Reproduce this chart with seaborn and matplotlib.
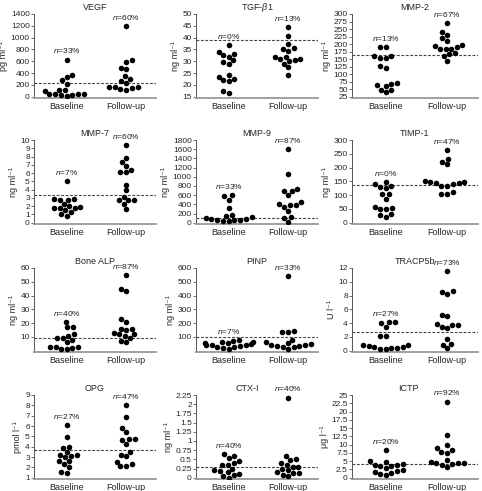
import pandas as pd
import matplotlib.pyplot as plt
import seaborn as sns

# values, one list per group
vegf_base = [630, 370, 340, 280, 220, 120, 110, 100, 45, 45, 45, 40, 35, 20, 30]
vegf_follow = [1200, 620, 590, 490, 470, 350, 300, 270, 230, 170, 160, 160, 140, 130, 120]
tgf_base = [37, 33, 32.5, 34, 32, 30.5, 29.5, 29, 24, 23.5, 22.5, 22, 21.5, 17.5, 16.8]
tgf_follow = [44.5, 40.5, 37.5, 35.5, 35, 34.5, 32, 32, 31, 30.5, 30, 29, 27.5, 30.8, 24.2]
mmp2_base = [190, 190, 160, 160, 155, 155, 127, 120, 68, 70, 63, 60, 48, 48, 40]
mmp2_follow = [270, 240, 230, 220, 210, 198, 193, 190, 185, 185, 183, 170, 168, 160, 145]
mmp7_base = [5.0, 2.9, 2.9, 2.8, 2.7, 2.3, 2.0, 1.9, 1.8, 1.8, 1.8, 1.5, 1.3, 1.0, 0.8]
mmp7_follow = [9.4, 7.8, 7.3, 6.8, 6.4, 6.1, 6.1, 4.6, 3.9, 3.1, 2.8, 2.7, 2.7, 2.3, 1.7]
mmp9_base = [600, 580, 500, 320, 170, 140, 120, 100, 90, 80, 70, 60, 50, 40, 30]
mmp9_follow = [1600, 1060, 730, 700, 690, 600, 450, 400, 390, 380, 340, 250, 120, 100, 10]
timp_base = [148, 142, 135, 130, 125, 103, 103, 87, 57, 52, 50, 50, 30, 28, 22]
timp_follow = [262, 232, 222, 212, 150, 148, 147, 143, 143, 140, 135, 135, 110, 104, 104]
alp_base = [21, 17, 17, 12, 11, 9, 9, 8, 6, 3, 3, 3, 2, 1.5, 1]
alp_follow = [55, 45, 43, 23, 21, 16, 16, 15, 13, 12, 12, 11, 9, 7, 6]
pinp_base = [80, 70, 60, 60, 55, 55, 50, 45, 40, 40, 35, 30, 25, 20, 15]
pinp_follow = [540, 145, 135, 135, 80, 60, 55, 50, 40, 40, 35, 35, 30, 25, 15]
tracp_base = [4.2, 4.2, 4.0, 3.5, 2.1, 2.1, 0.9, 0.8, 0.7, 0.5, 0.5, 0.4, 0.4, 0.3, 0.2]
tracp_follow = [11.5, 8.6, 8.5, 8.3, 5.2, 5.0, 3.9, 3.8, 3.7, 3.5, 3.3, 1.7, 1.0, 0.9, 0.4]
opg_base = [6.1, 4.9, 4.0, 3.9, 3.5, 3.2, 3.2, 3.0, 3.1, 2.6, 2.6, 2.3, 2.0, 1.6, 1.5]
opg_follow = [8.0, 6.9, 5.8, 5.4, 4.75, 4.7, 4.65, 4.25, 3.5, 3.2, 3.1, 2.5, 2.3, 2.1, 2.1]
ctx_base = [0.65, 0.6, 0.55, 0.45, 0.4, 0.35, 0.35, 0.25, 0.2, 0.18, 0.15, 0.1, 0.08, 0.05, 0.0]
ctx_follow = [2.18, 0.6, 0.5, 0.48, 0.4, 0.35, 0.3, 0.28, 0.25, 0.2, 0.15, 0.12, 0.12, 0.08, 0.05]
ictp_base = [8.3, 5.0, 4.8, 4.2, 4.0, 3.8, 3.6, 3.5, 3.0, 2.2, 2.0, 1.8, 1.5, 1.2, 0.9]
ictp_follow = [23, 13, 10, 9, 8.5, 7.8, 7.6, 5.3, 4.7, 4.6, 4.5, 4.4, 4.1, 3.8, 3.3]

titles = ['VEGF', r'TGF-$\beta$1', 'MMP-2', 'MMP-7', 'MMP-9', 'TIMP-1',
          'Bone ALP', 'PINP', 'TRACP5b', 'OPG', 'CTX-I', 'ICTP']
units = ['pg ml⁻¹', 'ng ml⁻¹', 'ng ml⁻¹', 'ng ml⁻¹', 'ng ml⁻¹', 'ng ml⁻¹',
         'ng ml⁻¹', 'ng ml⁻¹', 'U l⁻¹', 'pmol l⁻¹', 'ng ml⁻¹', 'μg l⁻¹']
cutoffs = [240, 39, 165, 3.3, 100, 138, 9.5, 100, 2.7, 3.7, 0.29, 4.3]
pct_base = [33, 0, 13, 7, 33, 0, 40, 7, 27, 27, 40, 20]
pct_follow = [60, 13, 67, 60, 87, 47, 87, 33, 73, 47, 40, 92]
# (min, max, step) of y ticks
yticks = [(0, 1400, 200), (15, 50, 5), (25, 300, 25), (0, 10, 1), (0, 1800, 200), (0, 300, 50),
          (10, 60, 10), (100, 600, 100), (0, 12, 2), (1, 9, 1), (0, 2.25, 0.25), (0, 25, 2.5)]
ylims = [(0, 1400), (15, 50), (25, 300), (0, 10), (0, 1800), (0, 300),
         (0, 60), (0, 600), (0, 12), (1, 9), (0, 2.25), (0, 25)]
groups = ['Baseline', 'Follow-up']

base_vals = [vegf_base, tgf_base, mmp2_base, mmp7_base, mmp9_base, timp_base,
             alp_base, pinp_base, tracp_base, opg_base, ctx_base, ictp_base]
follow_vals = [vegf_follow, tgf_follow, mmp2_follow, mmp7_follow, mmp9_follow, timp_follow,
               alp_follow, pinp_follow, tracp_follow, opg_follow, ctx_follow, ictp_follow]

sns.set_style('ticks')
plt.rcParams['font.family'] = ['Liberation Sans', 'DejaVu Sans']
plt.rcParams['mathtext.fontset'] = 'custom'
plt.rcParams['mathtext.it'] = 'Liberation Sans:italic'
plt.rcParams['mathtext.rm'] = 'Liberation Sans'

W, H = 482, 491
fig = plt.figure(figsize=(W / 100, H / 100), dpi=100)

col_left = [34, 196, 352]
col_w = [122, 122, 126]
row_top = [14, 140, 268, 395]
row_h = 84
# title x position (axes fraction), a couple are nudged left in the original
title_x = [0.5] * 12
title_x[10] = 0.42
title_x[11] = 0.45

for i in range(12):
    r, c = divmod(i, 3)
    ax = fig.add_axes([col_left[c] / W, 1 - (row_top[r] + row_h) / H, col_w[c] / W, row_h / H])
    df = pd.DataFrame({
        'group': [groups[0]] * len(base_vals[i]) + [groups[1]] * len(follow_vals[i]),
        'value': base_vals[i] + follow_vals[i],
    })
    sns.swarmplot(data=df, x='group', y='value', order=groups, color='black',
                  size=4, ax=ax, warn_thresh=1)
    lo, hi = ylims[i]
    ax.set_ylim(lo - 0.015 * (hi - lo), hi)
    ax.set_xlim(-0.55, 1.5)
    t0, t1, st = yticks[i]
    n = int(round((t1 - t0) / st))
    ticks = [t0 + k * st for k in range(n + 1)]
    ax.set_yticks(ticks)
    ax.set_yticklabels([('%g' % t) for t in ticks])
    ax.axhline(cutoffs[i], color='#444444', linestyle=(0, (2.5, 1.5)), linewidth=0.8)
    ax.set_xlabel('')
    ax.set_ylabel(units[i], fontsize=6.5, labelpad=2)
    ax.set_title(titles[i], fontsize=6.5, pad=3, x=title_x[i])
    ax.tick_params(axis='y', labelsize=6, length=2, width=0.6, pad=1, color='#555555')
    ax.tick_params(axis='x', labelsize=6.5, length=0, pad=3)
    for s in ['top', 'right']:
        ax.spines[s].set_visible(False)
    ax.spines['left'].set_color('#555555')
    ax.spines['left'].set_linewidth(0.7)
    ax.spines['bottom'].set_color('#999999')
    ax.spines['bottom'].set_linewidth(1.3)
    for k, vals in enumerate([base_vals[i], follow_vals[i]]):
        pct = [pct_base, pct_follow][k][i]
        ax.annotate(r'$n$=%d%%' % pct, xy=(k, max(vals)), xytext=(0, 3),
                    textcoords='offset points', ha='center', va='bottom',
                    fontsize=6, color='#222222', annotation_clip=False)

fig.savefig('out.png', dpi=100)
